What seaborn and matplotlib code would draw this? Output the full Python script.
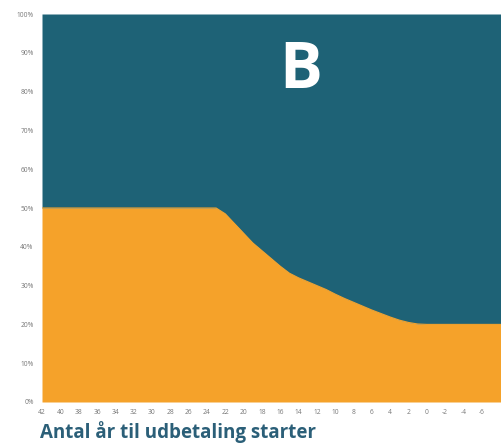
import numpy as np
import pandas as pd
import matplotlib
matplotlib.use("Agg")
import matplotlib.pyplot as plt
import seaborn as sns

# Data (years until payout vs. share in the lower band)
years = [42, 40, 38, 36, 34, 32, 30, 28, 26, 24, 23, 22, 21, 20, 19, 18, 17, 16,
         15, 14, 13, 12, 11, 10, 9, 8, 7, 6, 5, 4, 3, 2, 1, 0, -2, -4, -6, -8.2]
lower_share = [50, 50, 50, 50, 50, 50, 50, 50, 50, 50, 50, 48.5, 46, 43.5, 41, 39,
               37, 35, 33.2, 32, 31, 30, 29, 27.8, 26.7, 25.7, 24.7, 23.7, 22.8,
               21.9, 21.1, 20.5, 20.1, 20, 20, 20, 20, 20]
tick_years = [42, 40, 38, 36, 34, 32, 30, 28, 26, 24, 22, 20, 18, 16, 14, 12,
              10, 8, 6, 4, 2, 0, -2, -4, -6]
y_ticks = [0, 10, 20, 30, 40, 50, 60, 70, 80, 90, 100]

TEAL = "#1e6276"
ORANGE = "#f5a22a"
TEXT_BLUE = "#2b5f78"

sns.set_style("white")
plt.rcParams["font.family"] = ["Open Sans", "DejaVu Sans"]

df = pd.DataFrame({"years": years, "share": lower_share})

fig = plt.figure(figsize=(5.02, 4.43), dpi=100)
ax = fig.add_axes([42 / 502, 1 - 402 / 443, 1 - 42 / 502, 388 / 443])

ax.fill_between(df["years"], 0, df["share"], color=ORANGE, linewidth=0)
ax.fill_between(df["years"], df["share"], 100, color=TEAL, linewidth=0)
sns.lineplot(data=df, x="years", y="share", color=ORANGE, linewidth=0.8, ax=ax)

ax.set_xlim(42, -8.2)
ax.set_ylim(0, 100)
ax.set_xticks(tick_years)
ax.set_xticklabels([str(t) for t in tick_years])
ax.set_yticks(y_ticks)
ax.set_yticklabels([f"{t}%" for t in y_ticks])
ax.tick_params(axis="both", length=0, labelsize=4.8, labelcolor="#777777")
ax.tick_params(axis="x", pad=5)
ax.tick_params(axis="y", pad=6)
for s in ax.spines.values():
    s.set_visible(False)
ax.set_xlabel("")
ax.set_ylabel("")

ax.text(0.563, 0.852, "B", transform=ax.transAxes, color="white",
        fontsize=46, fontweight="bold", ha="center", va="center")

fig.text(40 / 502, 1 - 432 / 443, "Antal år til udbetaling starter",
         color=TEXT_BLUE, fontsize=13.5, fontweight="bold",
         ha="left", va="center")

fig.savefig("out.png", dpi=100)
